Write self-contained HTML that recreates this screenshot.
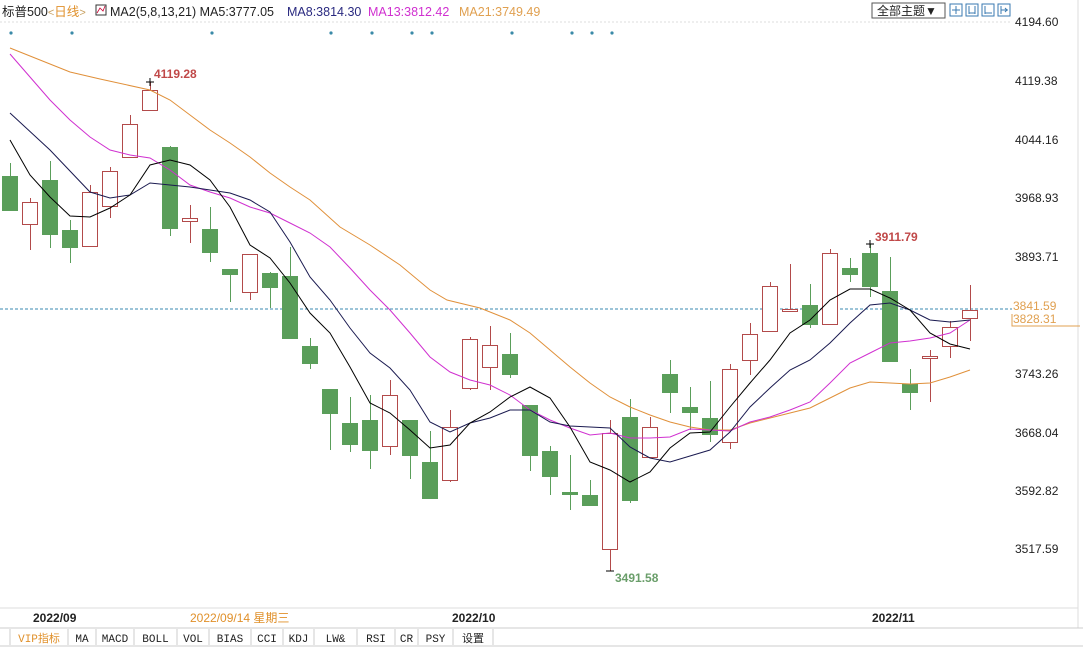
<!DOCTYPE html>
<html><head><meta charset="utf-8"><style>
body{margin:0;background:#fff;}
svg{display:block;font-family:"Liberation Sans","Noto Sans CJK SC",sans-serif;}
</style></head><body>
<svg id="s" width="1083" height="648" viewBox="0 0 1083 648" xmlns="http://www.w3.org/2000/svg">
<rect width="1083" height="648" fill="#fff"/>
<line x1="0" y1="22" x2="1012" y2="22" stroke="#ddd" stroke-dasharray="2,2"/>
<line x1="1078" y1="0" x2="1078" y2="628" stroke="#ddd"/>
<line x1="0" y1="608" x2="1078" y2="608" stroke="#ddd"/>
<line x1="0" y1="628" x2="1083" y2="628" stroke="#ccc"/>
<line x1="0" y1="646" x2="1083" y2="646" stroke="#ccc"/>
<text x="2" y="16" font-size="12.5" fill="#222">标普500<tspan fill="#c8a060" font-size="11">&lt;</tspan><tspan fill="#e0902a">日线</tspan><tspan fill="#c8a060" font-size="11">&gt;</tspan></text>
<rect x="96" y="5" width="10" height="10" fill="none" stroke="#333"/>
<path d="M97 13 L100 8 L103 11 L105 6" stroke="#c03" fill="none" stroke-width="0.8"/>
<text x="110" y="16" font-size="12.5" fill="#222">MA2(5,8,13,21) MA5:3777.05</text>
<text x="287" y="16" font-size="12.5" fill="#2a2a80">MA8:3814.30</text>
<text x="368" y="16" font-size="12.5" fill="#d030d0">MA13:3812.42</text>
<text x="459" y="16" font-size="12.5" fill="#e0a050">MA21:3749.49</text>
<rect x="872" y="3" width="73" height="15" fill="#fff" stroke="#555"/>
<text x="877" y="15" font-size="12" fill="#222">全部主题▼</text>
<g fill="none" stroke="#3a7ab0">
<rect x="950" y="4" width="12" height="12"/><rect x="966" y="4" width="12" height="12"/><rect x="982" y="4" width="12" height="12"/><rect x="998" y="4" width="12" height="12"/>
<path d="M956 6v8M952 10h8M969 6v8M975 6v8M969 13h6M985 6v8M985 13h7M1001 6v8M1001 10h7M1005 8l2 2l-2 2"/>
</g>
<g font-size="12" fill="#222">
<text x="1015" y="26">4194.60</text><text x="1015" y="85">4119.38</text><text x="1015" y="144">4044.16</text>
<text x="1015" y="202">3968.93</text><text x="1015" y="261">3893.71</text><text x="1015" y="378">3743.26</text>
<text x="1015" y="437">3668.04</text><text x="1015" y="495">3592.82</text><text x="1015" y="553">3517.59</text>
</g>
<line x1="0" y1="309" x2="1012" y2="309" stroke="#3a8ab0" stroke-dasharray="3,2"/>
<path d="M1012 314 V326 H1080" stroke="#e0a050" fill="none"/>
<text x="1013" y="323" font-size="12" fill="#e0a050">3828.31</text>
<rect x="1012" y="298" width="50" height="13" fill="#fff"/>
<text x="1013" y="310" font-size="12" fill="#e0a050">3841.59</text>
<g id="dots" fill="#3a8aa8"></g>
<g id="c"></g>
<g id="m" fill="none" stroke-width="1"></g>
<text x="154" y="78" font-size="12" font-weight="bold" fill="#c04848">4119.28</text>
<text x="875" y="241" font-size="12" font-weight="bold" fill="#c04848">3911.79</text>
<text x="615" y="582" font-size="12" font-weight="bold" fill="#6a9e6a">3491.58</text>
<path d="M146 82h8M150 78v8M866 244h8M870 240v8M606 571h8" stroke="#000"/>
<g font-size="12">
<text x="33" y="622" font-weight="bold" fill="#222">2022/09</text>
<text x="190" y="622" fill="#e0902a">2022/09/14 星期三</text>
<text x="452" y="622" font-weight="bold" fill="#222">2022/10</text>
<text x="872" y="622" font-weight="bold" fill="#222">2022/11</text>
</g>
<g id="tabs" font-family="Liberation Mono,Noto Sans CJK SC,monospace" font-size="11"></g>
</svg>
<script>
var ns="http://www.w3.org/2000/svg";
function el(p,t,a){var e=document.createElementNS(ns,t);for(var k in a)e.setAttribute(k,a[k]);p.appendChild(e);return e;}
var d=document.getElementById('dots');
[11,72,212,331,372,412,432,512,572,592,612].forEach(function(x){el(d,'circle',{cx:x,cy:33,r:1.6});});
var C=[['g',176,211,163,211],['r',202,224,198,250],['g',180,235,161,248],['g',230,248,220,263],['r',192,246,185,247],
['r',171,206,167,218],['r',124,157,115,157],['r',90,110,82,110],['g',147,229,146,236],['r',218,221,205,243],
['g',229,253,207,262],['g',269,275,269,302],['r',254,292,254,300],['g',273,288,272,308],['g',276,339,247,339],
['g',346,364,338,369],['g',389,414,389,450],['g',423,445,397,452],['g',420,451,395,469],['r',395,446,380,455],
['g',420,456,420,479],['g',462,499,431,499],['r',427,480,410,482],['r',339,388,337,390],['r',345,367,326,390],
['g',354,375,333,378],['g',405,456,405,471],['g',451,477,446,495],['g',492,495,455,510],['g',495,506,480,506],
['r',433,549,420,571],['g',417,501,399,503],['r',427,457,417,457],['g',374,393,360,413],['g',407,413,387,430],
['g',418,435,381,442],['r',369,442,364,449],['r',334,360,323,375],['r',286,331,282,331],['r',309,311,264,311],
['g',305,325,284,328],['r',253,324,249,324],['g',268,275,258,282],['g',253,287,244,297],['g',291,362,257,362],
['g',384,393,369,410],['r',356,358,350,402],['r',327,346,321,358],['r',310,318,285,341]];
var g=document.getElementById('c');
C.forEach(function(c,i){var x=10+20*i;var col=c[0]=='g'?'#5a9e5a':'#b24a4a';
el(g,'line',{x1:x+0.5,y1:c[3],x2:x+0.5,y2:c[4],stroke:col});
if(c[0]=='g')el(g,'rect',{x:x-8,y:c[1],width:16,height:Math.max(c[2]-c[1],2),fill:col});
else el(g,'rect',{x:x-7.5,y:c[1]+0.5,width:15,height:Math.max(c[2]-c[1],2),fill:'#fff',stroke:col});});
var m=document.getElementById('m');
function pl(pts,col){el(m,'polyline',{points:pts,stroke:col});}
pl("10,48 40,60 70,72 100,79 150,90 170,100 190,115 210,130 230,143 250,157 270,173 290,187 310,200 340,227 370,245 400,265 430,290 447,300 480,308 510,320 530,333 550,350 570,367 590,383 610,397 630,407 650,415 670,422 690,427 710,430 730,430 750,423 770,418 790,413 810,408 830,398 850,388 870,382 890,383 910,384 930,383 950,377 970,370","#e0903a");
pl("10,54 30,77 50,100 70,120 90,137 110,150 130,155 150,158 170,170 190,185 210,192 230,198 250,207 270,213 290,223 310,233 330,247 350,268 370,290 390,310 410,333 430,357 450,372 470,380 490,385 510,395 530,410 550,420 570,428 590,435 610,433 630,438 650,438 670,437 690,429 710,430 730,431 750,422 770,417 790,410 810,402 830,383 850,363 870,353 890,343 910,341 930,338 950,333 970,320","#d030d0");
pl("10,113 50,150 90,192 110,198 130,195 150,183 170,185 190,187 210,190 230,193 250,200 270,212 290,242 310,277 330,300 350,328 370,353 390,368 410,390 430,422 450,432 470,423 490,418 510,410 530,410 550,422 570,426 590,427 610,428 630,447 650,458 670,462 690,456 710,450 730,432 750,407 770,388 790,370 810,360 830,343 850,323 870,305 890,303 910,310 930,320 950,322 970,320","#1a1a50");
pl("10,140 30,175 50,197 70,216 90,217 110,208 130,195 150,165 170,160 190,165 210,180 230,207 250,245 270,258 290,283 310,313 330,333 350,367 370,403 390,413 410,430 430,448 450,445 470,423 490,412 510,397 530,387 550,398 570,427 590,462 610,470 630,482 650,472 670,448 690,433 710,432 730,407 750,383 770,360 790,333 810,320 830,300 850,289 870,289 890,298 910,310 930,333 950,344 970,349","#000");
var tabs=[['',0,10],['VIP指标',10,68],['MA',68,96],['MACD',96,134],['BOLL',134,177],['VOL',177,209],['BIAS',209,251],['CCI',251,283],['KDJ',283,314],['LW&',314,357],['RSI',357,395],['CR',395,418],['PSY',418,453],['设置',453,493]];
var t=document.getElementById('tabs');
tabs.forEach(function(b){el(t,'line',{x1:b[2],y1:629,x2:b[2],y2:645,stroke:'#ccc'});
var tx=el(t,'text',{x:(b[1]+b[2])/2,y:642,'text-anchor':'middle',fill:b[0]=='VIP指标'?'#e0902a':'#222'});tx.textContent=b[0];});
</script>
</body></html>
